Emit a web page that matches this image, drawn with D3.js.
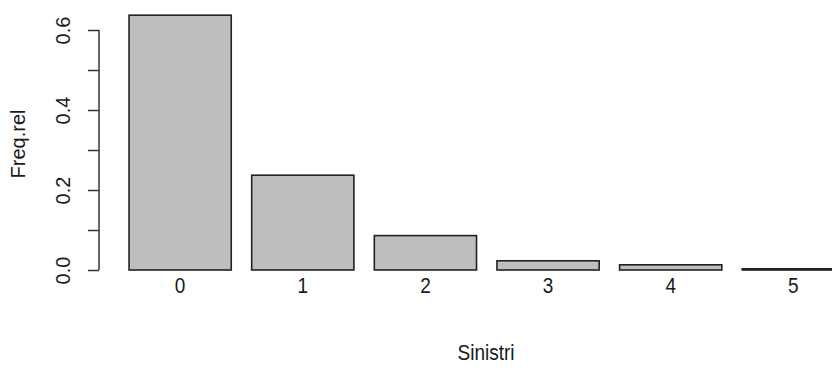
<!DOCTYPE html>
<html>
<head>
<meta charset="utf-8">
<script src="https://cdn.jsdelivr.net/npm/d3@7"></script>
<style>
  html, body { margin: 0; padding: 0; background: #fff; }
  svg { display: block; }
  text { font-family: "Liberation Sans", Arial, sans-serif; fill: #1a1a1a; }
</style>
</head>
<body>
<svg id="chart" width="832" height="376"></svg>
<script>
// Relative frequency of claims (sinistri) per policy
const categories = ["0", "1", "2", "3", "4", "5"];
const freqRel = [0.637, 0.237, 0.086, 0.023, 0.013, 0.003];
const yTicks = [0, 0.1, 0.2, 0.3, 0.4, 0.5, 0.6];
const yTickLabels = ["0.0", "", "0.2", "", "0.4", "", "0.6"];

const svg = d3.select("#chart");
const fontSize = "20px";

// barplot layout: bar width 1, gap 0.2 before each bar
const barWidth = 1, space = 0.2;
const lefts = categories.map((_, i) => space + i * (barWidth + space));

const x = d3.scaleLinear().domain([0, 1]).range([108.6, 210.8]);
const y = d3.scaleLinear().domain([0, 0.6]).range([270, 30]);

const axisX = 99;

// bars
svg.append("g")
  .selectAll("rect")
  .data(freqRel)
  .join("rect")
  .attr("x", (d, i) => x(lefts[i]))
  .attr("width", x(barWidth) - x(0))
  .attr("y", d => y(d))
  .attr("height", d => y(0) - y(d))
  .attr("fill", "#bebebe")
  .attr("stroke", "#222")
  .attr("stroke-width", 1.6);

// y axis
const yAxis = d3.axisLeft(y)
  .tickValues(yTicks)
  .tickSize(11)
  .tickPadding(0)
  .tickFormat((d, i) => yTickLabels[i]);

const gy = svg.append("g")
  .attr("transform", `translate(${axisX},0)`)
  .call(yAxis);
gy.select(".domain").attr("d", `M0,${y(0)}V${y(0.6)}`).attr("stroke", "#333").attr("stroke-width", 1.5);
gy.selectAll(".tick line").attr("stroke", "#333").attr("stroke-width", 1.5);
gy.selectAll(".tick text")
  .attr("x", 0).attr("y", 0)
  .attr("transform", "translate(-36,0) rotate(-90)")
  .attr("text-anchor", "middle")
  .attr("dy", "0.35em")
  .style("font-size", fontSize)
  .style("font-family", "'Liberation Sans', Arial, sans-serif")
  .attr("fill", "#1a1a1a");

// category labels under bars (slightly tall glyphs)
svg.append("g")
  .selectAll("g")
  .data(categories)
  .join("g")
  .attr("transform", (d, i) => `translate(${x(lefts[i] + barWidth / 2)},285) scale(0.95,1.1)`)
  .append("text")
  .attr("dy", "0.35em")
  .attr("text-anchor", "middle")
  .style("font-size", fontSize)
  .text(d => d);

// axis titles
svg.append("g")
  .attr("transform", "translate(486,352) scale(0.95,1.1)")
  .append("text")
  .attr("dy", "0.35em")
  .attr("text-anchor", "middle")
  .style("font-size", fontSize)
  .text("Sinistri");

svg.append("text")
  .attr("transform", `translate(18,${y(0.315)}) rotate(-90)`)
  .attr("dy", "0.35em")
  .attr("text-anchor", "middle")
  .style("font-size", fontSize)
  .text("Freq.rel");
</script>
</body>
</html>
